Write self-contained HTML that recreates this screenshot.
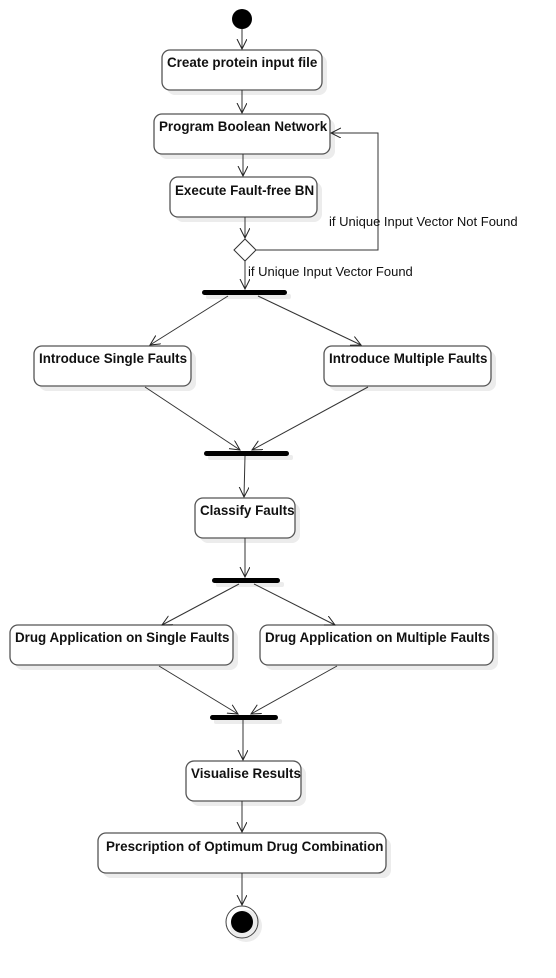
<!DOCTYPE html><html><head><style>body{margin:0;background:#fff}svg{display:block}text{font-family:"Liberation Sans",Arial,sans-serif;font-size:13px;fill:#111}.b{font-weight:bold;font-size:13.4px}</style></head><body>
<svg width="556" height="978" viewBox="0 0 556 978" xmlns="http://www.w3.org/2000/svg">
<defs><marker id="a" markerWidth="12" markerHeight="12" refX="10" refY="5" orient="auto" markerUnits="userSpaceOnUse"><path d="M0,0 L10,5 L0,10" fill="none" stroke="#222" stroke-width="1"/></marker></defs>
<g fill="#ececec">
<rect x="167" y="55" width="160" height="40" rx="8"/><rect x="159" y="119" width="176" height="40" rx="8"/><rect x="175" y="182" width="147" height="40" rx="8"/>
<rect x="39" y="351" width="157" height="40" rx="8"/><rect x="329" y="351" width="167" height="40" rx="8"/><rect x="200" y="503" width="100" height="40" rx="8"/>
<rect x="15" y="630" width="223" height="40" rx="8"/><rect x="265" y="630" width="233" height="40" rx="8"/><rect x="191" y="766" width="115" height="40" rx="8"/><rect x="103" y="838" width="288" height="40" rx="8"/>
<rect x="206" y="294" width="85" height="5" rx="2"/><rect x="208" y="455" width="85" height="5" rx="2"/><rect x="216" y="582" width="68" height="5" rx="2"/><rect x="214" y="719" width="68" height="5" rx="2"/>
<circle cx="246" cy="926" r="16"/></g>
<g fill="#fff" stroke="#555" stroke-width="1.3">
<rect x="162" y="50" width="160" height="40" rx="8"/><rect x="154" y="114" width="176" height="40" rx="8"/><rect x="170" y="177" width="147" height="40" rx="8"/>
<rect x="34" y="346" width="157" height="40" rx="8"/><rect x="324" y="346" width="167" height="40" rx="8"/><rect x="195" y="498" width="100" height="40" rx="8"/>
<rect x="10" y="625" width="223" height="40" rx="8"/><rect x="260" y="625" width="233" height="40" rx="8"/><rect x="186" y="761" width="115" height="40" rx="8"/><rect x="98" y="833" width="288" height="40" rx="8"/>
</g>
<g fill="#000"><circle cx="242" cy="19" r="10"/><rect x="202" y="290" width="85" height="5" rx="2.5"/><rect x="204" y="451" width="85" height="5" rx="2.5"/><rect x="212" y="578" width="68" height="5" rx="2.5"/><rect x="210" y="715" width="68" height="5" rx="2.5"/><circle cx="242" cy="922" r="11"/></g>
<circle cx="242" cy="922" r="16" fill="none" stroke="#444" stroke-width="1"/>
<path d="M234,250 L245,239 L256,250 L245,261 Z" fill="#fff" stroke="#333" stroke-width="1"/>
<g stroke="#333" stroke-width="1" fill="none" marker-end="url(#a)">
<path d="M242,29 V49"/><path d="M242,90 V113"/><path d="M243,154 V176"/><path d="M245,217 V238"/>
<path d="M256,250 H378 V133 H331"/><path d="M245,261 V289"/>
<path d="M228,296 L150,345"/><path d="M258,296 L361,345"/>
<path d="M145,387 L240,450"/><path d="M368,387 L252,450"/>
<path d="M245,456 L244,497"/><path d="M245,538 L245,577"/>
<path d="M239,584 L162,625"/><path d="M254,584 L335,625"/>
<path d="M159,666 L238,714"/><path d="M337,666 L251,714"/>
<path d="M243,720 V760"/><path d="M242,801 V832"/><path d="M242,873 V905"/>
</g>
<text class="b" x="167" y="67">Create protein input file</text>
<text class="b" x="159" y="131">Program Boolean Network</text>
<text class="b" x="175" y="195">Execute Fault-free BN</text>
<text x="329" y="226">if Unique Input Vector Not Found</text>
<text x="248" y="276">if Unique Input Vector Found</text>
<text class="b" x="39" y="363">Introduce Single Faults</text>
<text class="b" x="329" y="363">Introduce Multiple Faults</text>
<text class="b" x="200" y="515">Classify Faults</text>
<text class="b" x="15" y="642">Drug Application on Single Faults</text>
<text class="b" x="265" y="642">Drug Application on Multiple Faults</text>
<text class="b" x="191" y="778">Visualise Results</text>
<text class="b" x="106" y="851">Prescription of Optimum Drug Combination</text>
</svg></body></html>
